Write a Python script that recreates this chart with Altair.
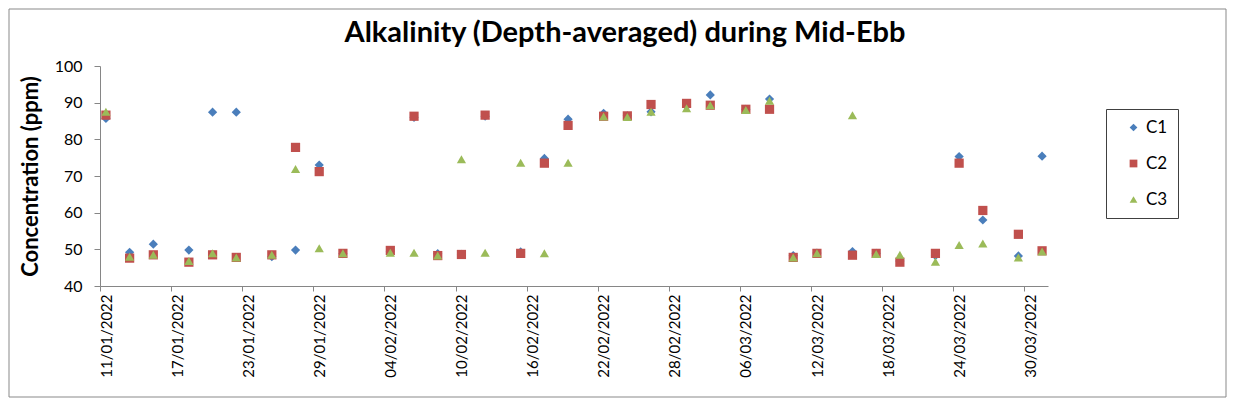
import altair as alt
import pandas as pd

dates = ["2022-01-11", "2022-01-13", "2022-01-15", "2022-01-18", "2022-01-20",
         "2022-01-22", "2022-01-25", "2022-01-27", "2022-01-29", "2022-01-31",
         "2022-02-04", "2022-02-06", "2022-02-08", "2022-02-10", "2022-02-12",
         "2022-02-15", "2022-02-17", "2022-02-19", "2022-02-22", "2022-02-24",
         "2022-02-26", "2022-03-01", "2022-03-03", "2022-03-06", "2022-03-08",
         "2022-03-10", "2022-03-12", "2022-03-15", "2022-03-17", "2022-03-19",
         "2022-03-22", "2022-03-24", "2022-03-26", "2022-03-29", "2022-03-31"]

c1 = [85.7, 49.2, 51.4, 49.8, 87.4, 87.4, 48.0, 49.8, 73.0, 48.8,
      49.5, 86.0, 48.8, 48.6, 86.3, 49.3, 74.8, 85.5, 87.1, 86.4,
      87.5, 89.0, 92.1, 88.2, 91.0, 48.3, 49.0, 49.4, 48.9, 46.8,
      48.3, 75.3, 58.0, 48.2, 75.4]
c2 = [86.6, 47.6, 48.5, 46.5, 48.5, 47.8, 48.5, 77.8, 71.2, 48.9,
      49.7, 86.3, 48.3, 48.6, 86.6, 48.9, 73.5, 83.8, 86.3, 86.4,
      89.5, 89.8, 89.3, 88.2, 88.2, 47.8, 48.9, 48.4, 48.9, 46.5,
      48.9, 73.5, 60.6, 54.1, 49.6]
c3 = [87.5, 48.0, 48.5, 46.8, 48.9, 47.8, 48.5, 71.9, 50.3, 48.9,
      49.1, 49.1, 48.3, 74.6, 49.1, 73.6, 48.9, 73.6, 86.2, 86.1,
      87.5, 88.5, 89.3, 88.0, 90.5, 47.8, 48.9, 86.6, 48.7, 48.5,
      46.6, 51.2, 51.6, 47.8, 49.4]

series = ["C1", "C2", "C3"]
colors = ["#4A7EBB", "#C0504D", "#9BBB59"]
shapes = ["diamond", "square", "triangle-up"]

tick_dates = ["2022-01-11", "2022-01-17", "2022-01-23", "2022-01-29", "2022-02-04",
              "2022-02-10", "2022-02-16", "2022-02-22", "2022-02-28", "2022-03-06",
              "2022-03-12", "2022-03-18", "2022-03-24", "2022-03-30"]
y_ticks = [40, 50, 60, 70, 80, 90, 100]

rows = []
for name, vals in zip(series, [c1, c2, c3]):
    for d, v in zip(dates, vals):
        rows.append({"date": d + "T12:00:00Z", "series": name, "value": v})
df = pd.DataFrame(rows)


def dt(s):
    y, m, d = (int(p) for p in s.split("-"))
    return alt.DateTime(year=y, month=m, date=d, utc=True)


FONT = "Lato"
W, H = 948, 220
PAD = {"left": 92, "top": 58, "right": 1219 - 92 - 948, "bottom": 390 - 58 - 220}

points = alt.Chart(df).mark_point(filled=True, size=85, opacity=1).encode(
    x=alt.X("date:T",
            scale=alt.Scale(type="utc", domain=[dt("2022-01-11"), dt("2022-04-01")], nice=False),
            axis=alt.Axis(values=[dt(t) for t in tick_dates], format="%d/%m/%Y",
                          labelAngle=270, labelFontSize=15, labelFont=FONT,
                          labelColor="#000000", grid=False, domainColor="#868686",
                          tickColor="#868686", tickSize=5, labelPadding=3,
                          labelOffset=6, title=None, labelOverlap=False)),
    y=alt.Y("value:Q",
            scale=alt.Scale(domain=[40, 100], nice=False, zero=False),
            axis=alt.Axis(values=y_ticks, labelFontSize=16, labelFont=FONT,
                          labelColor="#000000", grid=False, domainColor="#868686",
                          tickColor="#868686", tickSize=6, labelPadding=12,
                          title="Concentration (ppm)", titleFontSize=22,
                          titleFont=FONT, titleFontWeight="bold", titleColor="#000000",
                          titlePadding=12)),
    color=alt.Color("series:N", scale=alt.Scale(domain=series, range=colors),
                    legend=alt.Legend(title=None, orient="none", legendX=1006, legendY=43,
                                      labelFontSize=17, labelFont=FONT, labelColor="#000000",
                                      strokeColor="#404040", padding=10,
                                      rowPadding=18, symbolOffset=9, labelOffset=4,
                                      symbolSize=60, fillColor="#ffffff",
                                      labelExpr="datum.label + '      '")),
    shape=alt.Shape("series:N", scale=alt.Scale(domain=series, range=shapes)),
    order=alt.Order("series:N"),
)

frame = alt.Chart(pd.DataFrame({"k": [0]})).mark_rect(
    fill=None, stroke="#898989", strokeWidth=1, clip=False
).encode(
    x=alt.value(-91), x2=alt.value(W + PAD["right"] - 1),
    y=alt.value(-57), y2=alt.value(H + PAD["bottom"] - 1),
)

chart = alt.layer(frame, points).properties(
    width=W, height=H,
    padding=PAD,
    autosize=alt.AutoSizeParams(type="none"),
    title=alt.TitleParams("Alkalinity (Depth-averaged) during Mid-Ebb",
                          font=FONT, fontSize=29, fontWeight="bold", color="#000000",
                          anchor="middle", frame="group", dx=51, offset=0, dy=39),
).configure_view(stroke=None).configure_axisX(domainColor="#868686")

chart.save("out.html", embed_options={"renderer": "svg", "actions": False})
